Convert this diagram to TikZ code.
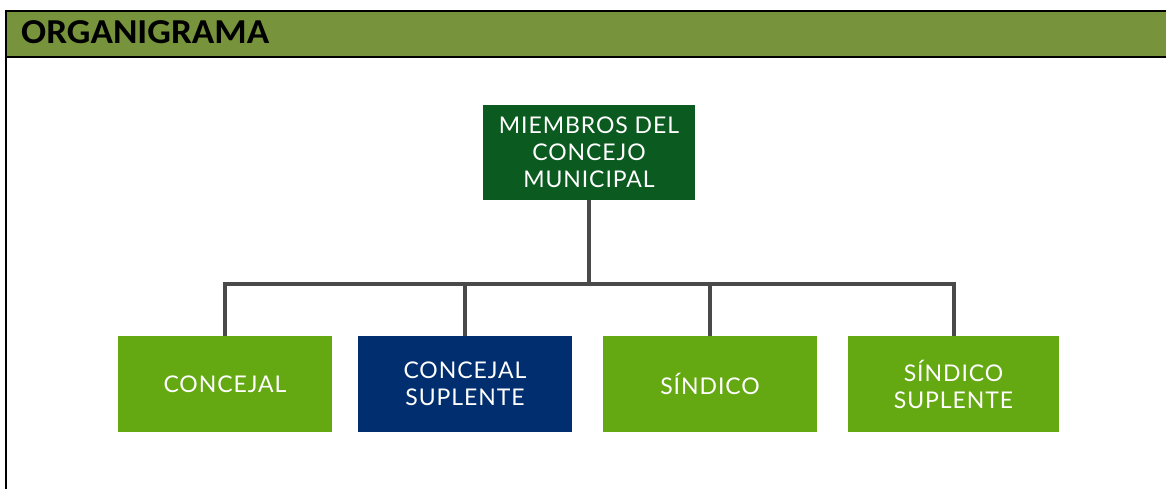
\documentclass[tikz,border=0pt]{standalone}
\usepackage{fontspec}
\setmainfont{Lato}[LetterSpace=4]
\newfontfamily\headfont{Carlito}[FakeStretch=1.06]
\definecolor{headgreen}{HTML}{77933C}
\definecolor{topgreen}{HTML}{0B5A1F}
\definecolor{boxgreen}{HTML}{64A812}
\definecolor{boxnavy}{HTML}{002E6E}
\definecolor{linkgray}{HTML}{4A4A4A}
\tikzset{
    orgbox/.style={fill=boxgreen, text=white, minimum width=214pt, minimum height=96pt,
        inner sep=0pt, align=center, font=\fontsize{23}{27}\selectfont},
    link/.style={draw=linkgray, line width=4pt}
}
\begin{document}
\begin{tikzpicture}[x=1pt,y=-1pt]
        \useasboundingbox (0,0) rectangle (1166,489);

        % header
        \fill[headgreen] (6,11) rectangle (1170,57);
        \draw[line width=2.5pt] (1170,11) -- (6,11) -- (6,57) -- (1170,57);
        \draw[line width=2pt] (6,57) -- (6,492);
        \node[anchor=base west, inner sep=0pt, font=\headfont\bfseries\fontsize{35}{40}\selectfont] (title) at (21,44) {ORGANIGRAMA};

        % nodes
        \node[orgbox, fill=topgreen, minimum width=212pt, minimum height=95pt] (top) at (589,152.5) {MIEMBROS DEL\\CONCEJO\\MUNICIPAL};
        \node[orgbox] (concejal) at (225,384) {CONCEJAL};
        \node[orgbox, fill=boxnavy] (concejalsup) at (465,384) {CONCEJAL\\SUPLENTE};
        \node[orgbox] (sindico) at (710,384) {SÍNDICO};
        \node[orgbox, minimum width=211pt] (sindicosup) at (953.5,384) {SÍNDICO\\SUPLENTE};

        % connectors
        \coordinate (bus) at (589,284);
        \draw[link] (top.south) -- (bus);
        \foreach \n in {concejal, concejalsup, sindico, sindicosup}
            \draw[link] (bus) -| (\n.north);
    \end{tikzpicture}
\end{document}
